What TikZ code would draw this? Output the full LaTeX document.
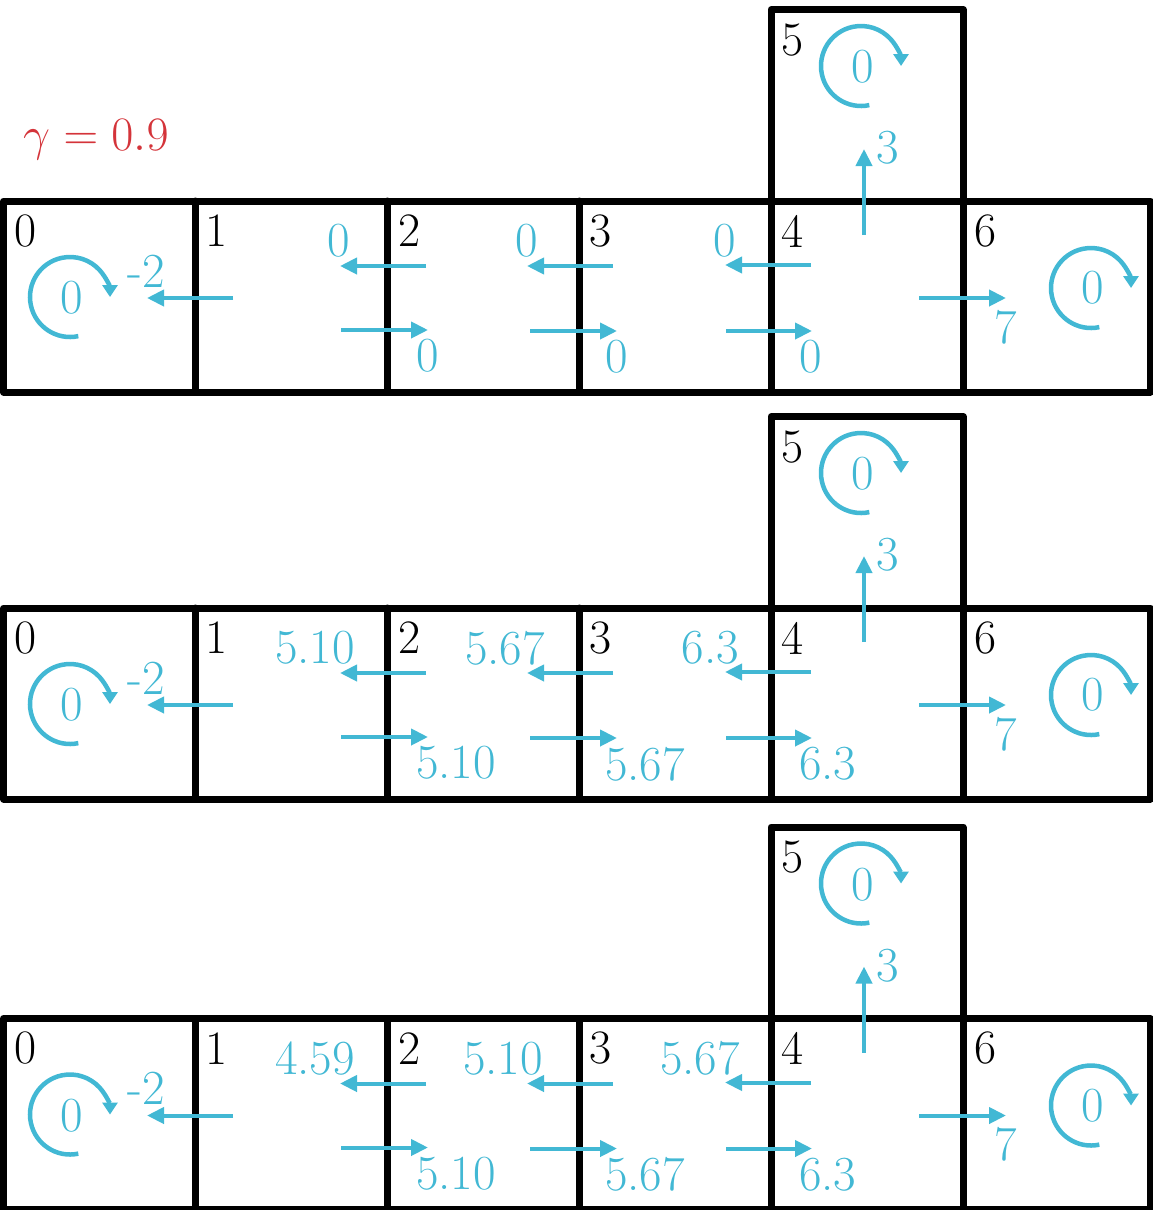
\RequirePackage{fix-cm}
\documentclass[tikz,border=0pt]{standalone}
\usetikzlibrary{arrows.meta}
\definecolor{cyanA}{RGB}{66,184,212}
\definecolor{redA}{RGB}{212,52,58}
\begin{document}
\begin{tikzpicture}[x=1pt,y=-1pt,
  gridline/.style={line width=7pt, line join=round, line cap=round},
  flow/.style={cyanA, line width=4pt, -{Triangle[length=17pt,width=16pt]}},
  loopar/.style={cyanA, line width=4.5pt, -{Triangle[length=12pt,width=15pt]}},
  cell/.style={font=\fontsize{48}{52}\selectfont, inner sep=0pt},
  val/.style={cyanA, font=\fontsize{49}{53}\selectfont, inner sep=0pt}]
\useasboundingbox (0,0) rectangle (1153,1210);
\node[redA, font=\fontsize{48}{52}\selectfont, inner sep=0pt] (gamma) at (96,140) {$\gamma = 0.9$};
\foreach \r/\T/\anc/\xa/\xb/\xc/\la/\lb/\lc/\da/\db/\dc in {
  1/201/center/339/527/725/0/0/0/0/0/0,
  2/608/east/355/545/739/5.10/5.67/6.3/5.10/5.67/6.3,
  3/1018.5/east/355/543/740/4.59/5.10/5.67/5.10/5.67/6.3}
{
  % grid
  \draw[gridline] (3.5,\T) rectangle (1150,\T+191);
  \foreach \x in {195,387,579,771,963} \draw[gridline] (\x,\T) -- (\x,\T+191);
  \draw[gridline] (771,\T) -- (771,\T-191.5) -- (963,\T-191.5) -- (963,\T);
  % cell numbers
  \node[cell] (c0-\r) at (26,\T+30) {0};
  \node[cell] (c1-\r) at (217,\T+30) {1};
  \node[cell] (c2-\r) at (410,\T+30) {2};
  \node[cell] (c3-\r) at (601,\T+30) {3};
  \node[cell] (c4-\r) at (793,\T+30) {4};
  \node[cell] (c6-\r) at (986,\T+30) {6};
  \node[cell] (c5-\r) at (793,\T-161) {5};
  % arrow end points
  \coordinate (a10s-\r) at (233,\T+97);  \coordinate (a10e-\r) at (147,\T+97);
  \coordinate (a21s-\r) at (426,\T+65);  \coordinate (a21e-\r) at (340,\T+65);
  \coordinate (a32s-\r) at (613,\T+65);  \coordinate (a32e-\r) at (527,\T+65);
  \coordinate (a43s-\r) at (811,\T+64);  \coordinate (a43e-\r) at (725,\T+64);
  \coordinate (a12s-\r) at (341,\T+129); \coordinate (a12e-\r) at (428,\T+129);
  \coordinate (a23s-\r) at (530,\T+130); \coordinate (a23e-\r) at (617,\T+130);
  \coordinate (a34s-\r) at (726,\T+130); \coordinate (a34e-\r) at (812,\T+130);
  \coordinate (a46s-\r) at (919,\T+97);  \coordinate (a46e-\r) at (1006,\T+97);
  \coordinate (a45s-\r) at (864,\T+34);  \coordinate (a45e-\r) at (864,\T-52);
  \draw[flow] (a10s-\r) -- (a10e-\r);
  \draw[flow] (a21s-\r) -- (a21e-\r);
  \draw[flow] (a32s-\r) -- (a32e-\r);
  \draw[flow] (a43s-\r) -- (a43e-\r);
  \draw[flow] (a12s-\r) -- (a12e-\r);
  \draw[flow] (a23s-\r) -- (a23e-\r);
  \draw[flow] (a34s-\r) -- (a34e-\r);
  \draw[flow] (a46s-\r) -- (a46e-\r);
  \draw[flow] (a45s-\r) -- (a45e-\r);
  % self loops
  \coordinate (o0-\r) at (70,\T+96);
  \coordinate (o5-\r) at (861,\T-135);
  \coordinate (o6-\r) at (1091,\T+87);
  \draw[loopar] (o0-\r) ++(78:40) arc[start angle=78, end angle=360, radius=40];
  \draw[loopar] (o5-\r) ++(78:40) arc[start angle=78, end angle=360, radius=40];
  \draw[loopar] (o6-\r) ++(78:40) arc[start angle=78, end angle=360, radius=40];
  \node[val] (v0-\r) at (72,\T+97) {0};
  \node[val] (v5-\r) at (863,\T-134) {0};
  \node[val] (v6-\r) at (1093,\T+87) {0};
  % reward labels
  \node[val] (r10-\r) at (146,\T+70) {-2};
  \node[val] (r45-\r) at (888,\T-53) {3};
  \node[val] (r46-\r) at (1006,\T+126) {7};
  % value labels
  \node[val, anchor=\anc] (t1-\r) at (\xa,\T+40) {\la};
  \node[val, anchor=\anc] (t2-\r) at (\xb,\T+40) {\lb};
  \node[val, anchor=\anc] (t3-\r) at (\xc,\T+40) {\lc};
  \node[val, anchor=west] (b2-\r) at (416,\T+155) {\da};
  \node[val, anchor=west] (b3-\r) at (605,\T+156) {\db};
  \node[val, anchor=west] (b4-\r) at (799,\T+156) {\dc};
}
\end{tikzpicture}
\end{document}
